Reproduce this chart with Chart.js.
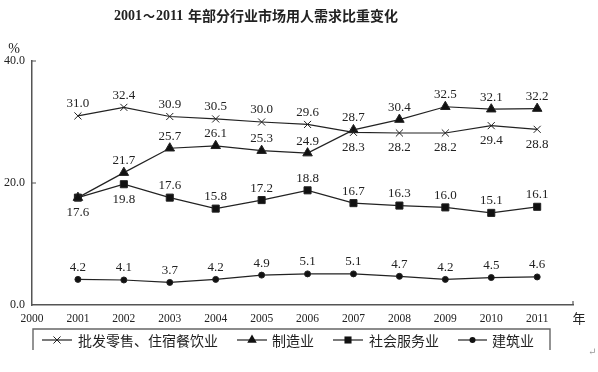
<!DOCTYPE html>
<html>
<head>
<meta charset="utf-8">
<script src="https://cdn.jsdelivr.net/npm/chart.js@4"></script>
<style>
  html, body { margin: 0; padding: 0; background: #fff; }
  #wrap { width: 598px; height: 372px; position: relative; }
</style>
</head>
<body>
<div id="wrap"><canvas id="myChart" width="598" height="372"></canvas></div>
<script>
const years = [2001, 2002, 2003, 2004, 2005, 2006, 2007, 2008, 2009, 2010, 2011];
const wholesale = [31.0, 32.4, 30.9, 30.5, 30.0, 29.6, 28.3, 28.2, 28.2, 29.4, 28.8];
const manufacturing = [17.6, 21.7, 25.7, 26.1, 25.3, 24.9, 28.7, 30.4, 32.5, 32.1, 32.2];
const socialService = [17.6, 19.8, 17.6, 15.8, 17.2, 18.8, 16.7, 16.3, 16.0, 15.1, 16.1];
const construction = [4.2, 4.1, 3.7, 4.2, 4.9, 5.1, 5.1, 4.7, 4.2, 4.5, 4.6];
const seriesNames = ["批发零售、住宿餐饮业", "制造业", "社会服务业", "建筑业"];
const yTicks = [0, 20, 40];

// where each value label sits: a = above, b = below, null = none
const labelPos = [
  ["a", "a", "a", "a", "a", "a", "b", "b", "b", "b", "b"],
  ["b", "a", "a", "a", "a", "a", "a", "a", "a", "a", "a"],
  [null, "b", "a", "a", "a", "a", "a", "a", "a", "a", "a"],
  ["a", "a", "a", "a", "a", "a", "a", "a", "a", "a", "a"]
];

const ink = "#222";
const serif = "'Liberation Serif', 'DejaVu Serif', serif";
const cjk = "'Noto Sans CJK SC', sans-serif";

const toPoints = (vals) => vals.map((v, i) => ({ x: years[i], y: v }));

const drawMarker = (ctx, style, x, y, r) => {
  ctx.save();
  ctx.fillStyle = "#111";
  ctx.strokeStyle = ink;
  ctx.lineWidth = 1;
  ctx.beginPath();
  if (style === "crossRot") {
    const d = r * Math.SQRT1_2;
    ctx.moveTo(x - d, y - d); ctx.lineTo(x + d, y + d);
    ctx.moveTo(x + d, y - d); ctx.lineTo(x - d, y + d);
    ctx.stroke();
  } else if (style === "triangle") {
    ctx.moveTo(x, y - r);
    ctx.lineTo(x + r * 0.866, y + r * 0.5);
    ctx.lineTo(x - r * 0.866, y + r * 0.5);
    ctx.closePath();
    ctx.fill();
  } else if (style === "rect") {
    const s = r * Math.SQRT1_2;
    ctx.rect(x - s, y - s, 2 * s, 2 * s);
    ctx.fill();
  } else {
    ctx.arc(x, y, r, 0, Math.PI * 2);
    ctx.fill();
  }
  ctx.restore();
};

const valueLabels = {
  id: "valueLabels",
  afterDatasetsDraw(chart) {
    const ctx = chart.ctx;
    ctx.save();
    ctx.font = "13px " + serif;
    ctx.fillStyle = ink;
    ctx.textAlign = "center";
    ctx.textBaseline = "middle";
    chart.data.datasets.forEach((ds, di) => {
      const meta = chart.getDatasetMeta(di);
      meta.data.forEach((pt, i) => {
        const pos = labelPos[di][i];
        if (!pos) return;
        const y = pos === "a" ? pt.y - 12 : pt.y + 15;
        ctx.fillText(ds.data[i].y.toFixed(1), pt.x, y);
      });
    });
    ctx.restore();
  }
};

const decorations = {
  id: "decorations",
  afterDraw(chart) {
    const ctx = chart.ctx;
    const area = chart.chartArea;
    const yScale = chart.scales.y;
    ctx.save();
    ctx.fillStyle = ink;
    ctx.textBaseline = "middle";

    // title
    ctx.textAlign = "center";
    ctx.font = "bold 14px " + serif;
    const t1 = "2001～2011 ";
    ctx.font = "bold 14px " + cjk;
    const t2 = "年部分行业市场用人需求比重变化";
    ctx.font = "bold 14px " + serif;
    const w1 = ctx.measureText("2001").width * 2 + 18;
    ctx.font = "bold 14px " + cjk;
    const w2 = ctx.measureText(t2).width;
    const start = 256 - (w1 + w2) / 2;
    ctx.textAlign = "left";
    ctx.font = "bold 14px " + serif;
    ctx.fillText("2001", start, 16);
    ctx.font = "bold 12px " + cjk;
    ctx.fillText("～", start + ctx.measureText("").width + 29, 16);
    ctx.font = "bold 14px " + serif;
    ctx.fillText("2011", start + 42, 16);
    ctx.font = "bold 14px " + cjk;
    ctx.fillText(t2, start + w1, 16);

    // unit labels
    ctx.font = "14px " + serif;
    ctx.textAlign = "center";
    ctx.fillText("%", 14, 49);
    ctx.font = "13px " + cjk;
    ctx.fillText("年", 579, 318);

    // small inward ticks on the y axis and the end tick on the x axis
    ctx.strokeStyle = "#555";
    ctx.lineWidth = 1.2;
    ctx.beginPath();
    yTicks.slice(1).forEach((v) => {
      const py = yScale.getPixelForValue(v);
      ctx.moveTo(area.left, py);
      ctx.lineTo(area.left + 4, py);
    });
    ctx.moveTo(area.right, area.bottom);
    ctx.lineTo(area.right, area.bottom - 4);
    ctx.stroke();

    // legend frame
    ctx.strokeStyle = "#666";
    ctx.lineWidth = 1.4;
    ctx.beginPath();
    ctx.moveTo(33, 350); ctx.lineTo(33, 329); ctx.lineTo(550, 329); ctx.lineTo(550, 350);
    ctx.stroke();

    // legend items
    const slots = [[42, 72, 78], [237, 267, 272], [333, 363, 369], [458, 487, 492]];
    ctx.font = "14px " + cjk;
    ctx.textAlign = "left";
    chart.data.datasets.forEach((ds, i) => {
      const [x1, x2, tx] = slots[i];
      const ly = 340;
      ctx.strokeStyle = ink;
      ctx.lineWidth = 1.2;
      ctx.beginPath();
      ctx.moveTo(x1, ly); ctx.lineTo(x2, ly);
      ctx.stroke();
      drawMarker(ctx, ds.pointStyle, (x1 + x2) / 2, ly, ds.pointRadius);
      ctx.fillStyle = ink;
      ctx.fillText(seriesNames[i], tx, ly + 1);
    });

    ctx.fillStyle = "#999";
    ctx.font = "10px " + serif;
    ctx.fillText("↵", 588, 352);
    ctx.restore();
  }
};

const lineSet = (label, vals, style, r) => ({
  label: label,
  data: toPoints(vals),
  borderColor: ink,
  borderWidth: 1.2,
  pointStyle: style,
  pointRadius: r,
  pointHoverRadius: r,
  pointBackgroundColor: "#111",
  pointBorderColor: ink,
  pointBorderWidth: 1,
  tension: 0
});

new Chart(document.getElementById("myChart").getContext("2d"), {
  type: "line",
  data: {
    datasets: [
      lineSet(seriesNames[0], wholesale, "crossRot", 5),
      lineSet(seriesNames[1], manufacturing, "triangle", 5.5),
      lineSet(seriesNames[2], socialService, "rect", 5),
      lineSet(seriesNames[3], construction, "circle", 3)
    ]
  },
  options: {
    responsive: false,
    animation: false,
    layout: { padding: { top: 61, right: 25, bottom: 45, left: 0 } },
    plugins: {
      legend: { display: false },
      tooltip: { enabled: false }
    },
    scales: {
      x: {
        type: "linear",
        min: 2000,
        max: 2011.78,
        grid: { drawOnChartArea: false, drawTicks: false },
        border: { color: "#555", width: 1.5 },
        ticks: {
          stepSize: 1,
          includeBounds: false,
          padding: 7,
          maxRotation: 0,
          autoSkip: false,
          color: ink,
          font: { family: serif, size: 11.5 },
          callback: (v) => (Number.isInteger(v) ? String(v) : "")
        },
        afterFit: (scale) => { scale.height = 22; }
      },
      y: {
        min: 0,
        max: 40,
        grid: { drawOnChartArea: false, drawTicks: false },
        border: { color: "#555", width: 1.5 },
        ticks: {
          stepSize: 20,
          padding: 7,
          color: ink,
          font: { family: serif, size: 12 },
          callback: (v) => v.toFixed(1)
        },
        afterFit: (scale) => { scale.width = 32; }
      }
    }
  },
  plugins: [valueLabels, decorations]
});
</script>
</body>
</html>
